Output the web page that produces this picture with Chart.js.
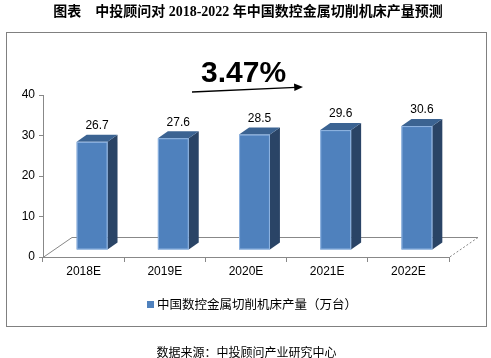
<!DOCTYPE html>
<html>
<head>
<meta charset="utf-8">
<script src="https://cdn.jsdelivr.net/npm/chart.js@4"></script>
<style>
  body { margin: 0; background: #fff; }
</style>
</head>
<body>
<canvas id="c" width="491" height="358"></canvas>
<script>
const categories = ['2018E', '2019E', '2020E', '2021E', '2022E'];
const output = [26.7, 27.6, 28.5, 29.6, 30.6];
const seriesLabel = '中国数控金属切削机床产量（万台）';
const yMin = 0, yMax = 40, yStep = 10;
const cagrText = '3.47%';
const titleText = '图表　中投顾问对 2018-2022 年中国数控金属切削机床产量预测';
const sourceText = '数据来源：中投顾问产业研究中心';

const FRONT = '#4F81BD', SIDE = '#2A4466', TOP = '#3B6392';

// 3d bars + floor, drawn from the bar elements chart.js lays out
const bar3d = {
  id: 'bar3d',
  beforeDraw(chart) {
    const ctx = chart.ctx;
    ctx.save();
    ctx.fillStyle = '#fff';
    ctx.fillRect(0, 0, chart.width, chart.height);
    ctx.strokeStyle = '#808080';
    ctx.lineWidth = 1;
    ctx.strokeRect(6.5, 32.5, 480, 294);
    ctx.restore();
  },
  beforeDatasetsDraw(chart) {
    const ctx = chart.ctx;
    const a = chart.chartArea;
    const fx = 29, fy = -20;
    ctx.save();
    ctx.strokeStyle = '#888';
    ctx.lineWidth = 1;
    ctx.beginPath();
    ctx.moveTo(a.left, a.bottom + 0.5);
    ctx.lineTo(a.left + fx, a.bottom + fy + 0.5);
    ctx.lineTo(a.right + fx, a.bottom + fy + 0.5);
    ctx.stroke();
    ctx.setLineDash([2, 2]);
    ctx.beginPath();
    ctx.moveTo(a.right + fx, a.bottom + fy + 0.5);
    ctx.lineTo(a.right, a.bottom + 0.5);
    ctx.stroke();
    ctx.setLineDash([]);

    const meta = chart.getDatasetMeta(0);
    const sx = 8.5, sy = -7, dx = 10, dy = -7;
    meta.data.forEach((bar, i) => {
      const l = bar.x - bar.width / 2 + sx, r = bar.x + bar.width / 2 + sx;
      const t = bar.y + sy, b = bar.base + sy;
      // side
      ctx.fillStyle = SIDE;
      ctx.beginPath();
      ctx.moveTo(r, t); ctx.lineTo(r + dx, t + dy); ctx.lineTo(r + dx, b + dy); ctx.lineTo(r, b);
      ctx.closePath(); ctx.fill();
      // top
      ctx.fillStyle = TOP;
      ctx.beginPath();
      ctx.moveTo(l, t); ctx.lineTo(l + dx, t + dy); ctx.lineTo(r + dx, t + dy); ctx.lineTo(r, t);
      ctx.closePath(); ctx.fill();
      // front
      ctx.fillStyle = FRONT;
      ctx.fillRect(l, t, r - l, b - t);
      ctx.strokeStyle = 'rgba(150,185,228,0.9)';
      ctx.strokeRect(l + 0.5, t + 0.5, r - l - 1, b - t - 1);
      // value label
      ctx.fillStyle = '#000';
      ctx.font = '12px "Liberation Sans", Arial';
      ctx.textAlign = 'center';
      ctx.textBaseline = 'bottom';
      ctx.fillText(String(output[i]), (l + r + dx) / 2, t + dy - 3);
    });
    ctx.restore();
    return false;
  },
  afterDraw(chart) {
    const ctx = chart.ctx;
    ctx.save();
    // title
    ctx.fillStyle = '#000';
    ctx.textAlign = 'center';
    ctx.textBaseline = 'middle';
    ctx.font = 'bold 14px "Liberation Serif", "Noto Sans CJK SC"';
    ctx.fillText(titleText, 248, 12);
    // growth annotation
    ctx.font = 'bold 30px "Liberation Sans", Arial';
    ctx.textAlign = 'left';
    ctx.textBaseline = 'alphabetic';
    ctx.fillText(cagrText, 201, 82);
    ctx.strokeStyle = '#000';
    ctx.lineWidth = 1.3;
    ctx.beginPath();
    ctx.moveTo(192, 92);
    ctx.lineTo(296, 87.3);
    ctx.stroke();
    ctx.beginPath();
    ctx.moveTo(303, 87);
    ctx.lineTo(294, 83.5);
    ctx.lineTo(294.4, 91);
    ctx.closePath();
    ctx.fill();
    // legend
    ctx.fillStyle = FRONT;
    ctx.fillRect(147, 301, 7, 7);
    ctx.fillStyle = '#000';
    ctx.font = '12.5px "Noto Sans CJK SC"';
    ctx.textBaseline = 'middle';
    ctx.fillText(chart.data.datasets[0].label, 157, 304.5);
    // source
    ctx.textAlign = 'center';
    ctx.font = '12px "Noto Sans CJK SC"';
    ctx.fillText(sourceText, 246.5, 352);
    ctx.restore();
  }
};

new Chart(document.getElementById('c'), {
  type: 'bar',
  data: {
    labels: categories,
    datasets: [{
      label: seriesLabel,
      data: output,
      backgroundColor: FRONT,
      barPercentage: 0.38,
      categoryPercentage: 1
    }]
  },
  options: {
    responsive: false,
    animation: false,
    devicePixelRatio: 1,
    layout: { padding: { left: 8, right: 42, top: 95, bottom: 81 } },
    plugins: {
      legend: { display: false },
      tooltip: { enabled: false },
      title: { display: false }
    },
    scales: {
      x: {
        grid: { drawOnChartArea: false, drawTicks: true, tickLength: 5, color: '#888', offset: true },
        border: { color: '#888' },
        ticks: { color: '#000', font: { family: '"Liberation Sans", Arial', size: 12 }, padding: 2, maxRotation: 0 },
        afterFit(s) { s.height = 20; }
      },
      y: {
        min: yMin,
        max: yMax,
        grid: { drawOnChartArea: false, tickLength: 4, color: '#888' },
        border: { color: '#888' },
        ticks: { stepSize: yStep, color: '#000', font: { family: '"Liberation Sans", Arial', size: 12 }, padding: 4 },
        afterFit(s) { s.width = 35; }
      }
    }
  },
  plugins: [bar3d]
});
</script>
</body>
</html>
